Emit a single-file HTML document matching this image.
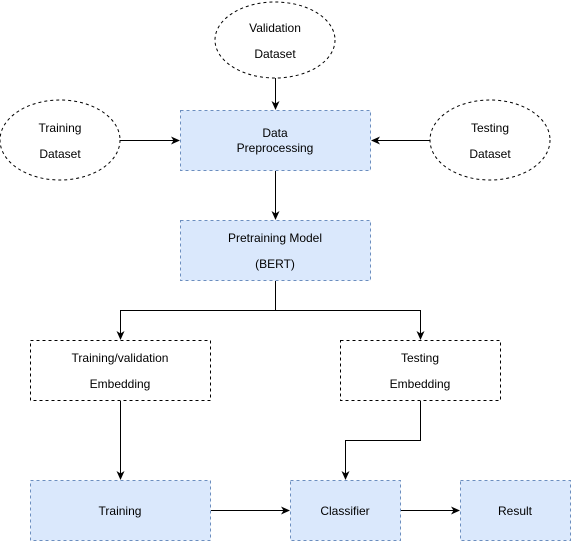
<!DOCTYPE html>
<html><head><style>body{margin:0;background:#fff}</style></head><body>
<svg width="571" height="541" xmlns="http://www.w3.org/2000/svg" font-family="Liberation Sans, sans-serif" font-size="12" text-anchor="middle">
<defs><marker id="a" markerWidth="10" markerHeight="10" refX="8" refY="4" orient="auto" markerUnits="userSpaceOnUse"><path d="M0,0 L9,4 L0,8 L2.5,4 Z" fill="#000"/></marker></defs>
<g fill="#fff" stroke="#000" stroke-dasharray="3,3">
<ellipse cx="275" cy="40" rx="60" ry="38"/>
<ellipse cx="60" cy="140" rx="60" ry="40"/>
<ellipse cx="490" cy="140" rx="60" ry="40"/>
<rect x="30.5" y="340.5" width="180" height="60"/>
<rect x="340.5" y="340.5" width="160" height="60"/>
</g>
<g fill="#dae8fc" stroke="#6c8ebf" stroke-dasharray="3,3">
<rect x="180.5" y="110.5" width="190" height="60"/>
<rect x="180.5" y="220.5" width="190" height="60"/>
<rect x="30.5" y="480.5" width="180" height="60"/>
<rect x="290.5" y="480.5" width="110" height="60"/>
<rect x="460.5" y="480.5" width="110" height="60"/>
</g>
<g stroke="#000" fill="none" marker-end="url(#a)">
<path d="M275.5 78 V109"/>
<path d="M120 140.5 H179"/>
<path d="M430 140.5 H372"/>
<path d="M275.5 171 V219"/>
<path d="M275.5 281 V310.5 H120.5 V339"/>
<path d="M275.5 310.5 H420.5 V339"/>
<path d="M120.5 401 V479"/>
<path d="M420.5 401 V440.5 H345.5 V479"/>
<path d="M211 510.5 H289"/>
<path d="M401 510.5 H459"/>
</g>
<g fill="#000">
<text x="275" y="32">Validation</text><text x="275" y="58">Dataset</text>
<text x="60" y="132">Training</text><text x="60" y="158">Dataset</text>
<text x="490" y="132">Testing</text><text x="490" y="158">Dataset</text>
<text x="275" y="137">Data</text><text x="275" y="152">Preprocessing</text>
<text x="275" y="242">Pretraining Model</text><text x="275" y="268">(BERT)</text>
<text x="120" y="362">Training/validation</text><text x="120" y="388">Embedding</text>
<text x="420" y="362">Testing</text><text x="420" y="388">Embedding</text>
<text x="120" y="515">Training</text>
<text x="345" y="515">Classifier</text>
<text x="515" y="515">Result</text>
</g>
</svg>
</body></html>
